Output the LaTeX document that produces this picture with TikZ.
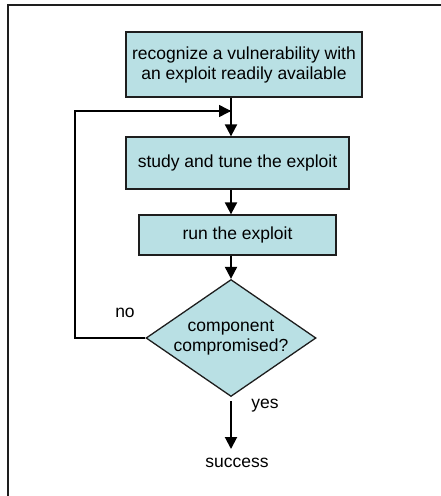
\documentclass[tikz,border=0pt]{standalone}
\usepackage{fontspec}
\setmainfont{Liberation Sans}
\usetikzlibrary{arrows.meta,shapes.geometric}
\definecolor{stepfill}{RGB}{185,224,228}
\definecolor{edgegray}{RGB}{30,30,30}
\begin{document}
\begin{tikzpicture}[x=1pt,y=-1pt,
  every node/.style={font=\fontsize{17.5}{20}\selectfont},
  stepbox/.style={draw=edgegray,line width=1.3pt,fill=stepfill,rectangle,inner sep=0pt,align=center},
  decision/.style={draw=edgegray,line width=1.3pt,fill=stepfill,diamond,inner sep=0pt,align=center,
    aspect=1.45,minimum width=170pt,minimum height=117pt},
  flow/.style={line width=2pt,-{Triangle[length=12pt,width=12pt]}},
  loopline/.style={line width=1.5pt}]
\useasboundingbox (0,0) rectangle (441,496);
% outer frame
\draw[line width=2pt,edgegray] (8,496) -- (8,5) -- (441,5);

\node[stepbox,minimum width=236pt,minimum height=65pt] (b1) at (244,64.5)
  {recognize a vulnerability with\\ an exploit readily available};
\node[stepbox,minimum width=223pt,minimum height=52pt] (b2) at (237.5,163)
  {study and tune the exploit};
\node[stepbox,minimum width=197pt,minimum height=40pt] (b3) at (237.5,235)
  {run the exploit};
\node[decision] (d) at (231,338) {component\\compromised?};
\node[inner sep=0pt] (success) at (237,463) {success};
\node (no) at (125,313) {no};
\node (yes) at (265,406) {yes};

\coordinate (corner) at (75,111);
\coordinate (merge) at (231,111);

\draw[flow] (b1.south -| d) -- (b2.north -| d);
\draw[flow] (b2.south -| d) -- (b3.north -| d);
\draw[flow] (b3.south -| d) -- (d.north);
\draw[loopline] (d.west) -- (d.west -| corner) -- (corner) -- (merge);
\draw[flow,line width=1.5pt] (corner) -- (merge);
\draw[flow,shorten <=4pt,shorten >=9pt] (d.south) -- (success.north -| d);
\end{tikzpicture}
\end{document}
